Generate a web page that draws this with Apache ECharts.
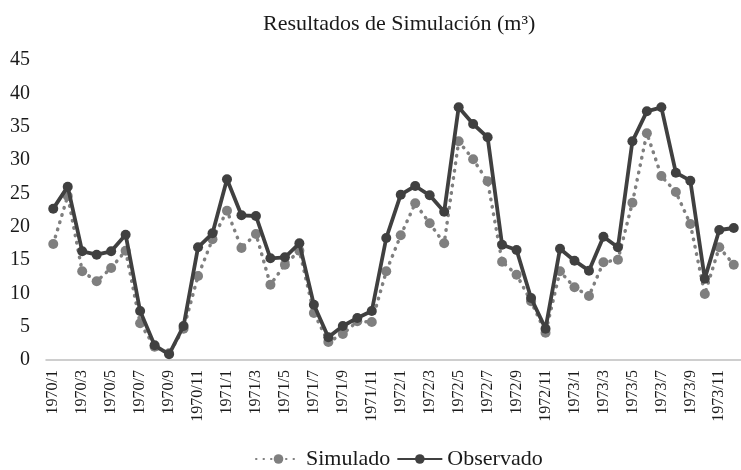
<!DOCTYPE html>
<html>
<head>
<meta charset="utf-8">
<script src="https://cdn.jsdelivr.net/npm/echarts@6/dist/echarts.min.js"></script>
<style>html,body{margin:0;padding:0;background:#fff}#c{width:741px;height:470px}</style>
</head>
<body>
<div id="c"></div>
<script>
const categories = [];
for (let y = 1970; y <= 1973; y++) for (let m = 1; m <= 12; m++) categories.push(y + '/' + m);

const simulado = [
  17.4, 24.6, 13.3, 11.8, 13.8, 16.4, 5.5, 2.0, 1.0, 4.7, 12.6, 18.1,
  22.4, 16.8, 18.9, 11.3, 14.3, 16.4, 7.05, 2.7, 3.9, 5.8, 5.7, 13.3,
  18.7, 23.5, 20.5, 17.5, 32.8, 30.1, 26.8, 14.75, 12.8, 8.8, 4.1, 13.3,
  10.9, 9.6, 14.65, 15.05, 23.6, 34.0, 27.6, 25.2, 20.4, 9.9, 16.9, 14.3
];
const observado = [
  22.7, 26.0, 16.3, 15.8, 16.3, 18.8, 7.35, 2.2, 0.85, 5.1, 16.9, 19.0,
  27.1, 21.7, 21.6, 15.25, 15.4, 17.5, 8.3, 3.4, 5.1, 6.3, 7.35, 18.3,
  24.8, 26.1, 24.7, 22.25, 37.9, 35.4, 33.4, 17.3, 16.5, 9.3, 4.7, 16.7,
  14.9, 13.4, 18.5, 16.9, 32.8, 37.3, 37.9, 28.1, 26.9, 12.2, 19.5, 19.8
];
const seriesNames = ['Simulado', 'Observado'];
const titleText = 'Resultados de Simulación (m³)';

const font = 'Liberation Serif, Times New Roman, serif';
const chart = echarts.init(document.getElementById('c'), null, {renderer: 'canvas'});
chart.setOption({
  animation: false,
  backgroundColor: '#fff',
  title: {
    text: titleText,
    left: 258, top: 8,
    textStyle: {fontFamily: font, fontSize: 22, fontWeight: 'normal', color: '#1a1a1a'}
  },
  legend: {
    bottom: -5, left: 250,
    itemWidth: 45, itemHeight: 12, itemGap: 6,
    textStyle: {fontFamily: font, fontSize: 22, color: '#1a1a1a'},
    data: seriesNames
  },
  grid: {left: 46, right: -8, top: 60, bottom: 110, containLabel: false},
  xAxis: {
    type: 'category',
    data: categories,
    boundaryGap: true,
    axisLine: {lineStyle: {color: '#bfbfbf', width: 1.5}},
    axisTick: {show: false},
    axisLabel: {interval: 1, rotate: 90, fontFamily: font, fontSize: 16, color: '#1a1a1a', margin: 10}
  },
  yAxis: {
    type: 'value', min: 0, max: 45, interval: 5,
    axisLine: {show: false},
    axisTick: {show: false},
    splitLine: {show: false},
    axisLabel: {fontFamily: font, fontSize: 20, color: '#1a1a1a', margin: 16}
  },
  series: [
    {
      name: seriesNames[0], type: 'line', data: simulado,
      symbol: 'circle', symbolSize: 10, showAllSymbol: true,
      itemStyle: {color: '#7f7f7f'},
      lineStyle: {color: '#7f7f7f', width: 3.5, type: [0.5, 7], cap: 'round'},
      z: 2
    },
    {
      name: seriesNames[1], type: 'line', data: observado,
      symbol: 'circle', symbolSize: 10, showAllSymbol: true,
      itemStyle: {color: '#404040'},
      lineStyle: {color: '#404040', width: 3.8},
      z: 3
    }
  ]
});
</script>
</body>
</html>
